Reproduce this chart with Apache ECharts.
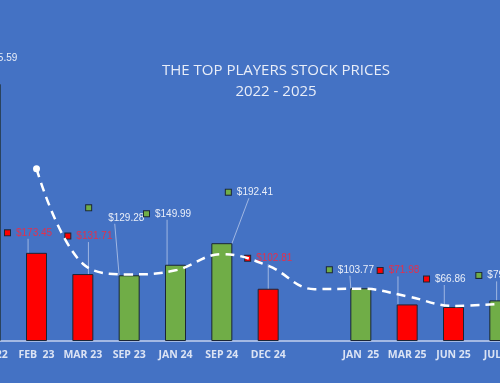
<!DOCTYPE html>
<html>
<head>
<meta charset="utf-8">
<script src="https://cdn.jsdelivr.net/npm/echarts@6/dist/echarts.min.js"></script>
<style>
html,body{margin:0;padding:0;background:#4472c4;overflow:hidden;width:500px;height:383px;position:relative;}
#chart{width:556px;height:383px;position:absolute;left:-33px;top:0;}
</style>
</head>
<body>
<div id="chart"></div>
<script>
// ---- data ----
const categories = ['DEC 22', 'FEB  23', 'MAR 23', 'SEP 23', 'JAN 24', 'SEP 24', 'DEC 24', '', 'JAN  25', 'MAR 25', 'JUN 25', 'JUL 25'];
const prices     = [505.59, 173.45, 131.71, 129.28, 149.99, 192.41, 102.81, null, 103.77, 71.98, 66.86, 79.89];
const direction  = ['up', 'down', 'down', 'up', 'up', 'up', 'down', null, 'up', 'down', 'down', 'up'];
const labelTone  = ['light', 'red', 'red', 'light', 'light', 'light', 'red', null, 'light', 'red', 'light', 'light'];
const trend      = [null, 339, 152, 131, 139, 171, 148, 102, 103, 88, 69, 73];
const titleLines = ['THE TOP PLAYERS STOCK PRICES', '2022 - 2025'];

// ---- styling ----
const GREEN = '#70ad47', RED = '#ff0000', EDGE = '#1b2636';
const LABEL_FONT = "'Liberation Sans','DejaVu Sans',sans-serif";
// label placement offsets relative to bar top-centre (key left edge, vertical middle)
const labelOffsets = [[-9, -26], [-31.5, -20], [-17.5, -38], [-43, -71], [-31.5, -51], [4, -51], [-23, -30.5], [0, 0], [-34, -18.5], [-29.5, -34], [-29.5, -28], [-23.5, -25]];
const twoLine = [false, false, false, true, false, false, false, false, false, false, false, false];

function fmtPrice(v) { return '$' + v.toFixed(2); }

const barData = prices.map((v, i) => {
  if (v === null) return null;
  const up = direction[i] === 'up';
  return {
    value: v,
    itemStyle: { color: up ? GREEN : RED },
    labelLine: { show: i !== 0 }
  };
});

const trendData = trend.map((v, i) => {
  if (i === 1) return { value: v, symbol: 'circle', symbolSize: 7 };
  return v;
});

const chart = echarts.init(document.getElementById('chart'), null, { renderer: 'canvas' });
chart.setOption({
  backgroundColor: '#4472c4',
  animation: false,
  title: {
    text: titleLines.join('\n'),
    left: 304,
    top: 55,
    textAlign: 'center',
    textStyle: {
      color: '#e8edf8',
      fontFamily: "'Open Sans', sans-serif",
      fontWeight: 'normal',
      fontSize: 15,
      lineHeight: 21
    }
  },
  grid: { left: 0, right: 0, top: 36, bottom: 42, containLabel: false },
  xAxis: {
    type: 'category',
    data: categories,
    axisLine: { show: true, lineStyle: { color: '#c5d2ee', width: 1.5 } },
    axisTick: { show: false },
    axisLabel: {
      interval: 0,
      margin: 9,
      color: '#dbe3f4',
      fontFamily: "'Open Sans', sans-serif",
      fontWeight: 'bold',
      fontSize: 10.5
    }
  },
  yAxis: {
    type: 'value', min: 0, max: 600, show: false,
    splitLine: { show: false }
  },
  series: [
    {
      type: 'bar',
      data: barData,
      barWidth: 21,
      itemStyle: { borderColor: EDGE, borderWidth: 1 },
      label: {
        show: true,
        position: 'top',
        formatter: function (p) {
          const i = p.dataIndex;
          const k = direction[i] === 'up' ? '{kg|}' : '{kr|}';
          const t = labelTone[i] === 'red' ? 'tr' : 'tl';
          if (i === 0) return '{' + t + '|' + fmtPrice(p.value) + '}';
          if (twoLine[i]) return k + '\n{s|}{' + t + '|' + fmtPrice(p.value) + '}';
          return k + '{g|}{' + t + '|' + fmtPrice(p.value) + '}';
        },
        rich: {
          kg: { width: 5, height: 5, backgroundColor: GREEN, borderColor: EDGE, borderWidth: 1, lineHeight: 7 },
          kr: { width: 5, height: 5, backgroundColor: RED, borderColor: EDGE, borderWidth: 1, lineHeight: 7 },
          g: { width: 6 },
          s: { width: 22 },
          tl: { color: '#e9eef8', fontSize: 10, fontFamily: LABEL_FONT, lineHeight: 13 },
          tr: { color: '#e3304d', fontSize: 10, fontFamily: LABEL_FONT, lineHeight: 13 }
        }
      },
      labelLine: { show: true, lineStyle: { color: '#b8c8ea', width: 0.8 } },
      labelLayout: function (params) {
        const i = params.dataIndex;
        const o = labelOffsets[i];
        const r = params.rect;
        if (twoLine[i]) {
          return { x: r.x + r.width / 2 + o[0], y: r.y + o[1], align: 'left', verticalAlign: 'top' };
        }
        return { x: r.x + r.width / 2 + o[0], y: r.y + o[1], align: 'left', verticalAlign: 'middle' };
      },
      z: 2
    },
    {
      type: 'line',
      data: trendData,
      smooth: 0.4,
      connectNulls: true,
      symbol: 'none',
      showSymbol: true,
      itemStyle: { color: '#ffffff' },
      lineStyle: { color: '#ffffff', width: 2.5, type: [9, 6] },
      z: 3
    }
  ]
});
</script>
</body>
</html>
